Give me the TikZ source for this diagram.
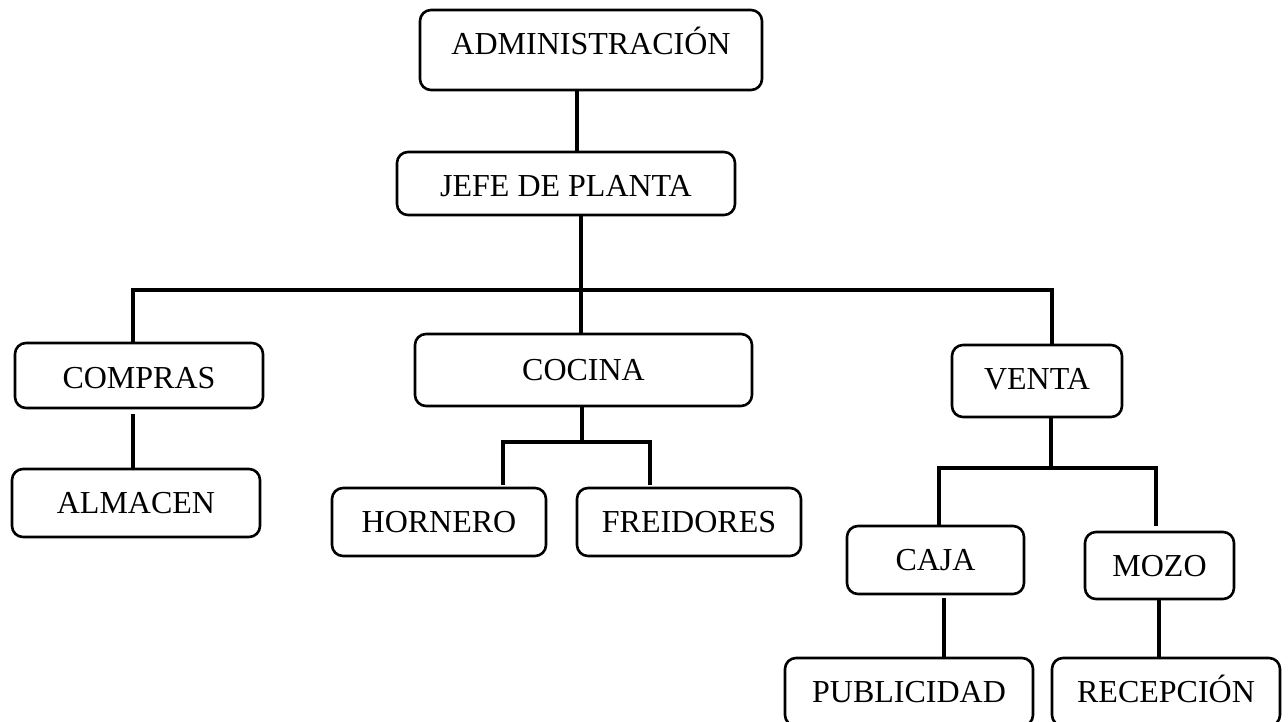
\documentclass[tikz,border=0pt]{standalone}
\usepackage{fontspec}
\setmainfont{Liberation Serif}
\usetikzlibrary{calc}
\begin{document}
\begin{tikzpicture}[x=1pt,y=-1pt,
  box/.style={draw=black,line width=2.6pt,rounded corners=11pt,inner sep=0pt,
    font=\fontsize{32}{36}\selectfont,text height=21pt,text depth=0pt},
  conn/.style={line width=4.5pt,line cap=rect}]
\useasboundingbox (0,0) rectangle (1288,722);
\node[box,minimum width=342pt,minimum height=80pt,text depth=12pt] (admin) at (591,50) {ADMINISTRACIÓN};
\node[box,minimum width=338pt,minimum height=63pt,text height=26pt] (jefe) at (566,183.5) {JEFE DE PLANTA};
\node[box,minimum width=248pt,minimum height=65pt,text height=25pt] (compras) at (139,375.5) {COMPRAS};
\node[box,minimum width=248pt,minimum height=68pt] (almacen) at (136,503) {ALMACEN};
\node[box,minimum width=337pt,minimum height=72pt] (cocina) at (583.5,370) {COCINA};
\node[box,minimum width=214pt,minimum height=68pt] (hornero) at (439,522) {HORNERO};
\node[box,minimum width=224pt,minimum height=68pt] (freidores) at (689,522) {FREIDORES};
\node[box,minimum width=170pt,minimum height=72pt,text depth=4pt] (venta) at (1037,381) {VENTA};
\node[box,minimum width=177pt,minimum height=68pt] (caja) at (935.5,560) {CAJA};
\node[box,minimum width=149pt,minimum height=67pt] (mozo) at (1159.5,565.5) {MOZO};
\node[box,minimum width=248pt,minimum height=68pt] (publicidad) at (909,692) {PUBLICIDAD};
\node[box,minimum width=228pt,minimum height=68pt] (recepcion) at (1166,692) {RECEPCIÓN};
% junction coordinates
\coordinate (ax) at (577,0);
\coordinate (cx) at (581,0);
\coordinate (busL) at (133,290);
\coordinate (busR) at (1052,290);
\coordinate (kbus) at (582,442);
\coordinate (kL) at (503,442);
\coordinate (kR) at (650,442);
\coordinate (vbus) at (1051,468);
\coordinate (vL) at (939,468);
\coordinate (vR) at (1156,468);
\coordinate (px) at (944,0);
\coordinate (rx) at (1159,0);
% connectors
\draw[conn,line cap=butt] (admin.south -| ax) -- (jefe.north -| ax);
\draw[conn,line cap=butt] (jefe.south -| cx) -- (cocina.north -| cx);
\draw[conn] (busL |- compras.north) -- (busL) -- (busR) -- (busR |- venta.north);
\draw[conn,line cap=butt,shorten <=5pt] (compras.south -| busL) -- (almacen.north -| busL);
\draw[conn,line cap=butt] (cocina.south -| kbus) -- (kbus);
\draw[conn] ($(hornero.north -| kL)+(0,-4)$) -- (kL) -- (kR) -- ($(freidores.north -| kR)+(0,-4)$);
\draw[conn,line cap=butt] (venta.south -| vbus) -- (vbus);
\draw[conn] ($(caja.north -| vL)+(0,-1)$) -- (vL) -- (vR) -- ($(mozo.north -| vR)+(0,-7)$);
\draw[conn,line cap=butt,shorten <=3pt] (caja.south -| px) -- (publicidad.north -| px);
\draw[conn,line cap=butt] (mozo.south -| rx) -- (recepcion.north -| rx);
\end{tikzpicture}
\end{document}
